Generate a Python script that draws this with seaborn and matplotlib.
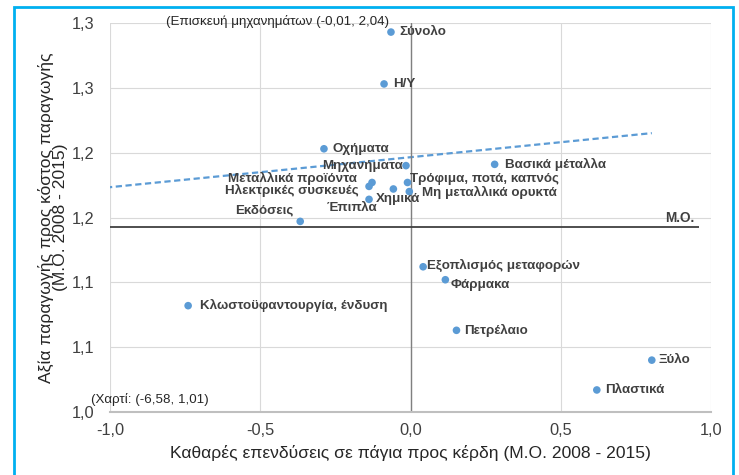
import matplotlib
matplotlib.use('Agg')
import matplotlib.pyplot as plt
from matplotlib.patches import Rectangle
import seaborn as sns
import pandas as pd

# sectors, net investment / profits (x) and production value / cost (y)
sectors = ['Σύνολο', 'Η/Υ', 'Οχήματα', 'Μηχανήματα', 'Βασικά μέταλλα',
           'Μεταλλικά προϊόντα', 'Ηλεκτρικές συσκευές', 'Χημικά',
           'Τρόφιμα, ποτά, καπνός', 'Μη μεταλλικά ορυκτά', 'Έπιπλα',
           'Εκδόσεις', 'Εξοπλισμός μεταφορών', 'Φάρμακα', 'Πετρέλαιο',
           'Ξύλο', 'Πλαστικά', 'Κλωστοϋφαντουργία, ένδυση',
           'Χαρτί', 'Επισκευή μηχανημάτων']
invest = [-0.065, -0.088, -0.288, -0.015, 0.280,
          -0.128, -0.138, -0.057,
          -0.010, -0.004, -0.138,
          -0.367, 0.042, 0.116, 0.153,
          0.803, 0.620, -0.740,
          -6.58, -0.01]
value = [1.293, 1.253, 1.203, 1.190, 1.191,
         1.177, 1.174, 1.172,
         1.177, 1.170, 1.164,
         1.147, 1.112, 1.102, 1.063,
         1.040, 1.017, 1.082,
         1.01, 2.04]

mean_value = 1.143
x_ticks = [-1.0, -0.5, 0.0, 0.5, 1.0]
x_tick_labels = ['-1,0', '-0,5', '0,0', '0,5', '1,0']
y_ticks = [1.00, 1.05, 1.10, 1.15, 1.20, 1.25, 1.30]
y_tick_labels = ['1,0', '1,1', '1,1', '1,2', '1,2', '1,3', '1,3']

# label placement: (dx px, dy px, ha)
label_pos = {
    'Σύνολο': (8, 0, 'left'),
    'Η/Υ': (9, 0, 'left'),
    'Οχήματα': (9, 0, 'left'),
    'Μηχανήματα': (-3, 0, 'right'),
    'Βασικά μέταλλα': (10, 0, 'left'),
    'Μεταλλικά προϊόντα': (-15, 4, 'right'),
    'Ηλεκτρικές συσκευές': (-10, -4, 'right'),
    'Χημικά': (-17, -10, 'left'),
    'Τρόφιμα, ποτά, καπνός': (3, 3, 'left'),
    'Μη μεταλλικά ορυκτά': (13, -1, 'left'),
    'Έπιπλα': (8, -9, 'right'),
    'Εκδόσεις': (-7, 11, 'right'),
    'Εξοπλισμός μεταφορών': (4, 1, 'left'),
    'Φάρμακα': (5, -5, 'left'),
    'Πετρέλαιο': (8, 0, 'left'),
    'Ξύλο': (7, 0, 'left'),
    'Πλαστικά': (8, 0, 'left'),
    'Κλωστοϋφαντουργία, ένδυση': (12, 0, 'left'),
}

df = pd.DataFrame({'sector': sectors, 'invest': invest, 'value': value})

sns.set_theme(style='whitegrid')
plt.rcParams['font.family'] = ['Liberation Sans', 'DejaVu Sans']

blue = '#5B9BD5'
txt = '#404040'

fig, ax = plt.subplots(figsize=(7.39, 4.75), dpi=100)
fig.subplots_adjust(left=110 / 739, right=711 / 739, top=1 - 23 / 475, bottom=1 - 412 / 475)

sns.regplot(data=df, x='invest', y='value', ci=None, scatter=False, truncate=True,
            color=blue, line_kws={'lw': 1.6, 'dashes': (2.8, 1.6)}, ax=ax)
sns.scatterplot(data=df, x='invest', y='value', color=blue, s=30,
                edgecolor='none', ax=ax, zorder=4)

ax.axvline(0, color='#808080', lw=1, zorder=2)
ax.hlines(mean_value, -1, 0.96, color='#404040', lw=1.3, zorder=2)

for _, r in df.iterrows():
    if r['sector'] not in label_pos:
        continue
    dx, dy, ha = label_pos[r['sector']]
    ax.annotate(r['sector'], (r['invest'], r['value']), xytext=(dx, dy),
                textcoords='offset pixels', ha=ha, va='center',
                fontsize=9.6, fontweight='bold', color=txt, zorder=5)

ax.text(-0.815, 1.3015, '(Επισκευή μηχανημάτων (-0,01, 2,04)', fontsize=9.6,
        color='#262626', ha='left', va='center', clip_on=False)
ax.text(-1.064, 1.0098, '(Χαρτί: (-6,58, 1,01)', fontsize=9.6,
        color='#262626', ha='left', va='center', clip_on=False)
ax.text(0.847, 1.1496, 'Μ.Ο.', fontsize=9.8, fontweight='bold',
        color=txt, ha='left', va='center')

ax.set_xlim(-1, 1)
ax.set_ylim(1.0, 1.3)
ax.set_xticks(x_ticks, x_tick_labels)
ax.set_yticks(y_ticks, y_tick_labels)
ax.tick_params(length=0, labelsize=11.8, colors='#404040')
ax.tick_params(axis='x', pad=8)
ax.tick_params(axis='y', pad=11)
ax.grid(True, color='#D9D9D9', lw=0.8)

for s in ['left', 'top', 'right']:
    ax.spines[s].set_visible(False)
ax.spines['bottom'].set_color('#BFBFBF')
ax.spines['bottom'].set_linewidth(1.5)

ax.set_xlabel('Καθαρές επενδύσεις σε πάγια προς κέρδη (Μ.Ο. 2008 - 2015)',
              fontsize=12.6, color='#262626', labelpad=5)
ax.set_ylabel('Αξία παραγωγής προς κόστος παραγωγής\n(Μ.Ο. 2008 - 2015)',
              fontsize=12.6, color='#262626', labelpad=3, linespacing=0.88)

fig.patches.append(Rectangle((14 / 739, -0.02), (733 - 14) / 739, 1 - 7 / 475 + 0.02,
                             transform=fig.transFigure, fill=False,
                             edgecolor='#00B0F0', lw=2))

fig.savefig('out.png', dpi=100)
